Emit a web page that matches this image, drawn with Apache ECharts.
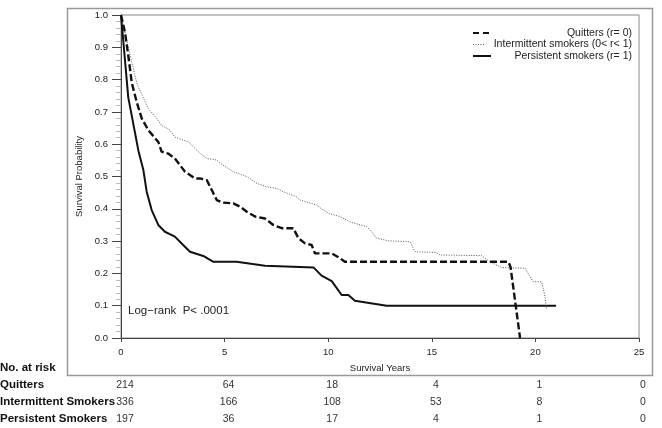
<!DOCTYPE html>
<html><head><meta charset="utf-8">
<script src="https://cdn.jsdelivr.net/npm/echarts@6/dist/echarts.min.js"></script>
<style>html,body{margin:0;padding:0;background:#fff}#c{width:662px;height:428px}</style>
</head><body><div id="c"></div>
<script>
const seriesNames = ['Quitters (r= 0)', 'Intermittent smokers (0< r< 1)', 'Persistent smokers (r= 1)'];
const quitters = [[0,1],[0.19,0.947],[0.35,0.875],[0.52,0.79],[0.76,0.73],[1.0,0.68],[1.32,0.643],[1.8,0.607],[1.96,0.577],[2.28,0.571],[2.6,0.556],[3.09,0.515],[3.57,0.494],[3.81,0.494],[4.14,0.489],[4.38,0.458],[4.62,0.427],[4.94,0.419],[5.42,0.417],[5.74,0.407],[6.07,0.391],[6.47,0.376],[6.95,0.37],[7.35,0.35],[7.76,0.34],[8.32,0.34],[8.56,0.309],[8.88,0.293],[9.2,0.288],[9.36,0.262],[10.17,0.262],[10.57,0.247],[10.8,0.236],[18.7,0.236],[18.8,0.22],[19.26,0]];
const intermittent = [[0,1],[0.19,0.947],[0.52,0.854],[0.76,0.79],[0.92,0.765],[1.32,0.71],[1.72,0.68],[1.96,0.658],[2.36,0.644],[2.6,0.622],[3.25,0.607],[3.49,0.592],[3.81,0.572],[4.14,0.556],[4.62,0.551],[4.78,0.541],[5.42,0.515],[6.07,0.5],[6.55,0.479],[7.03,0.468],[7.51,0.463],[7.83,0.453],[8.47,0.437],[8.64,0.427],[9.44,0.412],[9.76,0.396],[10.09,0.384],[10.57,0.376],[11.1,0.358],[11.86,0.345],[12.1,0.329],[12.34,0.309],[12.9,0.301],[13.95,0.298],[14.19,0.267],[15.2,0.265],[15.4,0.257],[17.4,0.255],[17.8,0.236],[18.37,0.218],[19.5,0.216],[19.9,0.174],[20.3,0.174],[20.46,0.13],[20.54,0.087]];
const persistent = [[0,1],[0.35,0.745],[0.84,0.58],[1.08,0.52],[1.24,0.453],[1.48,0.396],[1.8,0.35],[2.12,0.329],[2.6,0.314],[3.0,0.288],[3.33,0.267],[3.97,0.254],[4.46,0.236],[5.58,0.236],[6.95,0.224],[6.96,0.218],[9.3,0.218],[9.68,0.193],[10.17,0.176],[10.65,0.133],[10.97,0.133],[11.29,0.115],[12.82,0.10],[21.0,0.10]];
const riskTimes = [0, 5, 10, 15, 20, 25];
const riskLabels = ['Quitters', 'Intermittent Smokers', 'Persistent Smokers'];
const riskQuitters = [214, 64, 18, 4, 1, 0];
const riskIntermittent = [336, 166, 108, 53, 8, 0];
const riskPersistent = [197, 36, 17, 4, 1, 0];
const annotation = 'Log\u2212rank  P< .0001';

const F = '"Liberation Sans", Arial, sans-serif';
const chart = echarts.init(document.getElementById('c'));
const styles = [
  {color:'#111', width:2.4, type:[7,3]},
  {color:'#555', width:1, type:[1,1.5]},
  {color:'#111', width:2, type:'solid'}
];
const datas = [quitters, intermittent, persistent];
chart.setOption({
  animation:false,
  grid:{left:121, right:23, top:15, bottom:90, show:true, borderColor:'#888', borderWidth:1, backgroundColor:'transparent'},
  xAxis:{type:'value', min:0, max:25, interval:5, name:'Survival Years', nameLocation:'middle', nameGap:25,
    nameTextStyle:{fontFamily:F, fontSize:9.5, color:'#222'},
    axisLine:{show:true, lineStyle:{color:'#444', width:1}},
    axisTick:{show:true, length:4, lineStyle:{color:'#444'}},
    axisLabel:{fontFamily:F, fontSize:9.5, color:'#222', margin:9},
    splitLine:{show:false}},
  yAxis:{type:'value', min:0, max:1, interval:0.1, name:'Survival Probability', nameLocation:'middle', nameGap:33,
    nameTextStyle:{fontFamily:F, fontSize:9.5, color:'#222'},
    axisLine:{show:true, lineStyle:{color:'#444', width:1}},
    axisTick:{show:true, length:9, lineStyle:{color:'#444'}},
    minorTick:{show:true, splitNumber:5, length:5, lineStyle:{color:'#bbb'}},
    axisLabel:{fontFamily:F, fontSize:9.5, color:'#222', margin:13, formatter:v=>v.toFixed(1)},
    splitLine:{show:false}},
  series: datas.map((d,i)=>({name:seriesNames[i], type:'line', data:d, showSymbol:false, symbol:'none',
    lineStyle:{color:styles[i].color, width:styles[i].width, type:styles[i].type}, z:3-i}))
});

function px(t){ return chart.convertToPixel({gridIndex:0},[t,0])[0]; }
const g = [];
g.push({type:'rect', shape:{x:67.5, y:8.5, width:585, height:367}, style:{fill:'none', stroke:'#999', lineWidth:1.5}, silent:true, z:-1});
// legend
const legY = [33, 44.5, 56];
styles.forEach((s,i)=>{
  const x2 = i===1 ? 485 : 491;
  g.push({type:'line', shape:{x1:473, y1:legY[i], x2:x2, y2:legY[i]}, style:{stroke:s.color, lineWidth:i===1?1:2, lineDash:Array.isArray(s.type)?(i===0?[6,4]:[1,1.5]):null}});
  g.push({type:'text', x:632, y:legY[i], style:{text:seriesNames[i], font:'10.5px '+F, fill:'#222', align:'right', verticalAlign:'middle'}});
});
g.push({type:'text', x:128, y:311, style:{text:annotation, font:'11.5px '+F, fill:'#222', align:'left', verticalAlign:'middle'}});
// risk table
const BF = 'bold 11.5px "Liberation Sans Narrow", "Arial Narrow", "Liberation Sans", sans-serif';
g.push({type:'text', x:0, y:368, style:{text:'No. at risk', font:BF, fill:'#111', verticalAlign:'middle'}});
const rows = [riskQuitters, riskIntermittent, riskPersistent];
const rowY = [385, 402, 419];
rows.forEach((r,i)=>{
  g.push({type:'text', x:0, y:rowY[i], style:{text:riskLabels[i], font:BF, fill:'#111', verticalAlign:'middle'}});
  r.forEach((v,j)=>{
    g.push({type:'text', x:px(riskTimes[j])+4, y:rowY[i], style:{text:String(v), font:'10.5px '+F, fill:'#333', align:'center', verticalAlign:'middle'}});
  });
});
chart.setOption({graphic:g});
</script></body></html>
